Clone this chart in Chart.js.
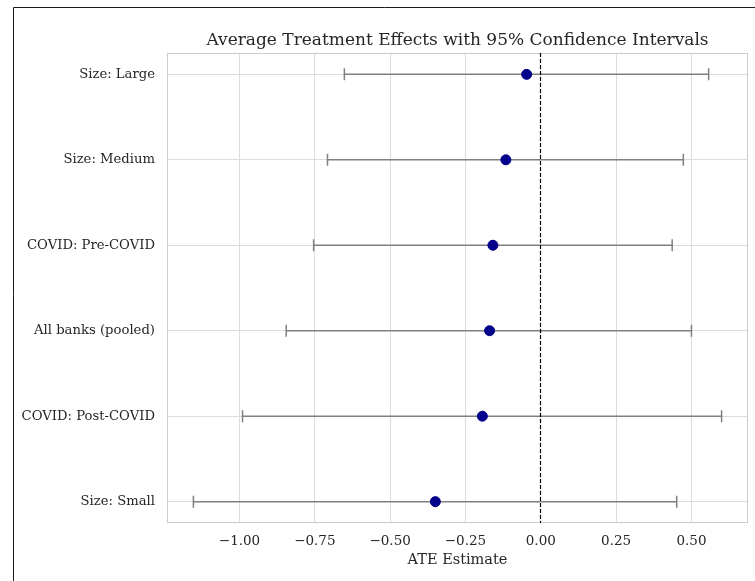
<!DOCTYPE html>
<html>
<head>
<meta charset="utf-8">
<script src="https://cdn.jsdelivr.net/npm/chart.js@4.4.0/dist/chart.umd.min.js"></script>
<style>
    body { margin: 0; background: #ffffff; }
    canvas { display: block; }
</style>
</head>
<body>
<canvas id="ateChart" width="755" height="581"></canvas>
<script>
// Kategorie (shora dolů) a odhady ATE s 95% intervaly spolehlivosti.
const categories = ['Size: Large', 'Size: Medium', 'COVID: Pre-COVID', 'All banks (pooled)', 'COVID: Post-COVID', 'Size: Small'];
const ateValues = [-0.047, -0.116, -0.159, -0.170, -0.194, -0.350];
const ciLower = [-0.652, -0.708, -0.754, -0.845, -0.990, -1.153];
const ciUpper = [0.557, 0.473, 0.436, 0.500, 0.600, 0.451];
const xTickValues = [-1.00, -0.75, -0.50, -0.25, 0.00, 0.25, 0.50];

const textColor = '#262626';
const gridColor = '#dcdcdc';
const serifFont = "'DejaVu Serif', serif";

// Okraj osy x podobně jako v matplotlibu (5 % rozsahu).
const xMin = Math.min(...ciLower);
const xMax = Math.max(...ciUpper);
const xPad = (xMax - xMin) * 0.05;

// Plugin pro chybové úsečky, nulovou čáru, rámeček a nadpis.
const forestPlugin = {
    id: 'forest',
    beforeDraw(chart) {
        const ctx = chart.ctx;
        ctx.save();
        ctx.fillStyle = '#ffffff';
        ctx.fillRect(0, 0, chart.width, chart.height);
        ctx.restore();
    },
    beforeDatasetsDraw(chart) {
        const {ctx, chartArea, scales: {x, y}} = chart;
        ctx.save();

        // Rámeček kolem grafu.
        ctx.strokeStyle = '#cccccc';
        ctx.lineWidth = 1;
        ctx.strokeRect(chartArea.left + 0.5, chartArea.top + 0.5, chartArea.width - 1, chartArea.height - 1);

        // Intervaly spolehlivosti s koncovkami.
        ctx.strokeStyle = '#808080';
        ctx.lineWidth = 1.5;
        categories.forEach(function(name, i) {
            let yPix = y.getPixelForValue(i);
            let x0 = x.getPixelForValue(ciLower[i]);
            let x1 = x.getPixelForValue(ciUpper[i]);
            ctx.beginPath();
            ctx.moveTo(x0, yPix);
            ctx.lineTo(x1, yPix);
            ctx.moveTo(x0, yPix - 6);
            ctx.lineTo(x0, yPix + 6);
            ctx.moveTo(x1, yPix - 6);
            ctx.lineTo(x1, yPix + 6);
            ctx.stroke();
        });

        // Svislá přerušovaná čára v nule.
        let zeroX = Math.round(x.getPixelForValue(0)) - 0.5;
        ctx.strokeStyle = '#000000';
        ctx.lineWidth = 1.2;
        ctx.setLineDash([4, 2]);
        ctx.beginPath();
        ctx.moveTo(zeroX, chartArea.top);
        ctx.lineTo(zeroX, chartArea.bottom);
        ctx.stroke();
        ctx.restore();
    },
    afterDraw(chart) {
        const {ctx, chartArea} = chart;
        ctx.save();

        // Nadpis vycentrovaný nad plochou grafu.
        ctx.fillStyle = textColor;
        ctx.font = '17px ' + serifFont;
        ctx.textAlign = 'center';
        ctx.textBaseline = 'middle';
        ctx.fillText('Average Treatment Effects with 95% Confidence Intervals', (chartArea.left + chartArea.right) / 2, 41);

        // Černý okraj obrázku nahoře a vlevo.
        ctx.strokeStyle = '#1a1a1a';
        ctx.lineWidth = 1;
        ctx.beginPath();
        ctx.moveTo(13.5, chart.height);
        ctx.lineTo(13.5, 7.5);
        ctx.lineTo(chart.width, 7.5);
        ctx.stroke();
        ctx.restore();
    }
};

let ateCtx = document.getElementById('ateChart').getContext('2d');
// noinspection JSUnresolvedReference
let ateChart = new Chart(ateCtx, {
    type: 'scatter',
    data: {
        datasets: [{
            label: 'ATE',
            data: ateValues.map(function(v, i) { return {x: v, y: i}; }),
            backgroundColor: '#00008b',
            borderColor: '#00008b',
            pointRadius: 5,
            pointHoverRadius: 5
        }]
    },
    options: {
        responsive: false,
        animation: false,
        events: [],
        layout: {
            padding: {top: 53, right: 7, bottom: 0, left: 0}
        },
        plugins: {
            legend: {display: false},
            title: {display: false},
            tooltip: {enabled: false}
        },
        scales: {
            x: {
                type: 'linear',
                min: xMin - xPad,
                max: xMax + xPad,
                afterBuildTicks: function(scale) {
                    scale.ticks = xTickValues.map(function(v) { return {value: v}; });
                },
                afterFit: function(scale) {
                    scale.height = 58;
                },
                grid: {color: gridColor, lineWidth: 1, drawTicks: false},
                border: {display: false},
                ticks: {
                    padding: 10,
                    color: textColor,
                    font: {family: serifFont, size: 13.5},
                    maxRotation: 0,
                    callback: function(value) {
                        return value < 0 ? '\u2212' + Math.abs(value).toFixed(2) : value.toFixed(2);
                    }
                },
                title: {
                    display: true,
                    text: 'ATE Estimate',
                    color: textColor,
                    font: {family: serifFont, size: 14.5},
                    padding: {top: 4, bottom: 12}
                }
            },
            y: {
                type: 'linear',
                min: -0.25,
                max: categories.length - 0.75,
                reverse: true,
                afterBuildTicks: function(scale) {
                    scale.ticks = categories.map(function(c, i) { return {value: i}; });
                },
                afterFit: function(scale) {
                    scale.width = 167;
                },
                grid: {color: gridColor, lineWidth: 1, drawTicks: false},
                border: {display: false},
                ticks: {
                    padding: 12,
                    color: textColor,
                    font: {family: serifFont, size: 13.2},
                    callback: function(value) {
                        return categories[value];
                    }
                }
            }
        }
    },
    plugins: [forestPlugin]
});
</script>
</body>
</html>
